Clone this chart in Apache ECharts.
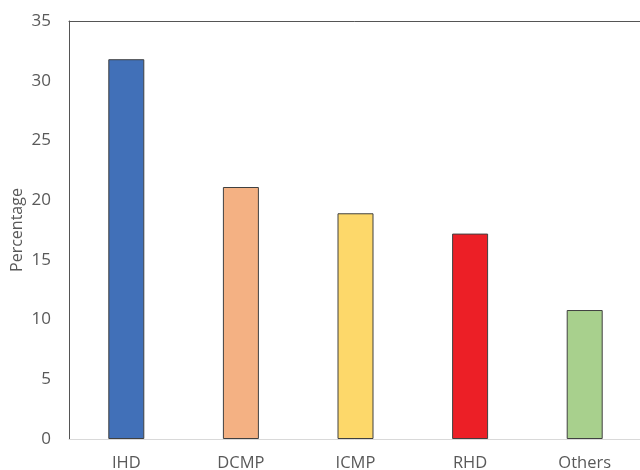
<!DOCTYPE html>
<html>
<head>
<meta charset="utf-8">
<script src="https://cdn.jsdelivr.net/npm/echarts@6/dist/echarts.min.js"></script>
<style>
  html, body { margin: 0; padding: 0; background: #fff; }
  #chart { width: 640px; height: 470px; }
</style>
</head>
<body>
<div id="chart"></div>
<script>
// Share of cases by underlying heart disease
const categories = ['IHD', 'DCMP', 'ICMP', 'RHD', 'Others'];
const percentages = [31.8, 21.1, 18.9, 17.2, 10.8];
const barColors = ['#4170b8', '#f4b183', '#fdd86a', '#ec1f26', '#a8d08d'];
const yTicks = { min: 0, max: 35, interval: 5 };

const chart = echarts.init(document.getElementById('chart'), null, { renderer: 'canvas' });
const textColor = '#595959';
const fontFamily = '"Open Sans", "Noto Sans", sans-serif';

chart.setOption({
  animation: false,
  backgroundColor: '#fff',
  grid: { left: 69, right: -2, top: 21, bottom: 31, outerBoundsMode: 'none', containLabel: false },
  xAxis: [{
    type: 'category',
    data: categories,
    axisLine: { show: true, lineStyle: { color: '#d9d9d9', width: 1 } },
    axisTick: { show: false },
    axisLabel: { color: textColor, fontSize: 16.5, fontFamily: fontFamily, margin: 16 }
  }, {
    // frame line along the top of the plot
    type: 'category',
    position: 'top',
    data: categories,
    axisLine: { show: true, lineStyle: { color: '#555', width: 1 } },
    axisTick: { show: false },
    axisLabel: { show: false }
  }],
  yAxis: {
    type: 'value',
    min: yTicks.min, max: yTicks.max, interval: yTicks.interval,
    name: 'Percentage',
    nameLocation: 'middle',
    nameGap: 44,
    nameMoveOverlap: false,
    nameTextStyle: { color: textColor, fontSize: 16, fontFamily: fontFamily },
    axisLine: { show: true, lineStyle: { color: '#555', width: 1 } },
    axisTick: { show: false },
    splitLine: { show: false },
    axisLabel: { color: textColor, fontSize: 17, fontFamily: fontFamily, margin: 18 }
  },
  series: [{
    type: 'bar',
    barWidth: 36,
    data: percentages.map((v, i) => ({
      value: v,
      itemStyle: { color: barColors[i] }
    })),
    itemStyle: { borderColor: '#404040', borderWidth: 1 }
  }]
});
</script>
</body>
</html>
